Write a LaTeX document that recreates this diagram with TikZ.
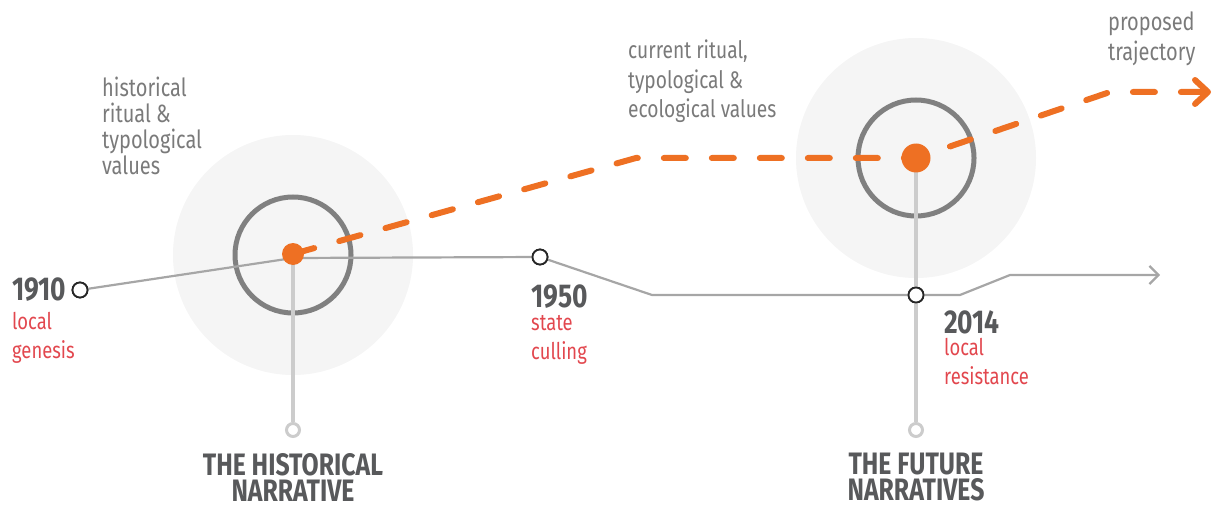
\documentclass[tikz,border=0pt]{standalone}
\usepackage{fontspec}
\setmainfont{Fira Sans}[FakeStretch=0.8]
\definecolor{ember}{HTML}{EE7023}
\definecolor{rosered}{HTML}{E2474E}
\definecolor{inkgrey}{HTML}{58595B}
\definecolor{softgrey}{HTML}{7A7A7A}
\usetikzlibrary{
  arrows.meta,
  positioning
}

\begin{document}
\begin{tikzpicture}[
  x=1pt, y=-1pt,
  halo/.style={circle, fill=black!4, minimum size=240pt, inner sep=0pt},
  ring/.style={circle, draw=black!50, line width=5pt, minimum size=116pt, inner sep=0pt},
  dot/.style={circle, fill=ember, inner sep=0pt},
  marker/.style={circle, draw=black!85, line width=1.8pt, fill=white, minimum size=15pt, inner sep=0pt},
  foot/.style={circle, draw=black!20, line width=3pt, fill=white, minimum size=13pt, inner sep=0pt},
  year/.style={font=\fontsize{33}{33}\bfseries\selectfont, text=inkgrey, inner sep=0pt},
  event/.style={font=\fontsize{23}{29}\selectfont, text=rosered, align=left, inner sep=0pt, anchor=north west},
  note/.style={font=\fontsize{24}{26}\selectfont, text=softgrey, align=left, inner sep=0pt, anchor=north west},
  title/.style={font=\fontsize{31}{26}\bfseries\selectfont, text=inkgrey, align=center, inner sep=0pt, anchor=north},
  timeline/.style={draw=black!35, line width=2.2pt},
  stem/.style={draw=black!20, line width=4pt},
  trail/.style={draw=ember, line width=6pt, line cap=round, dash pattern=on 22pt off 26pt}
]
  \useasboundingbox (0,0) rectangle (1214,505);

  % background halos and rings
  \node[halo] (pasthalo) at (293,255) {};
  \node[halo] (futurehalo) at (916,158) {};
  \node[ring] (pastring) at (293,255) {};
  \node[ring] (futurering) at (916,158) {};

  % markers on the timeline
  \node[marker] (y1910) at (80,290) {};
  \node[marker] (y1950) at (540,257) {};
  \node[marker] (y2014) at (916,295) {};
  \node[foot] (pastfoot) at (293,430) {};
  \node[foot] (futurefoot) at (916,430) {};

  \coordinate (pastjoin) at (293,258);
  \coordinate (dipstart) at (652,295);
  \coordinate (risestart) at (960,295);
  \coordinate (riseend) at (1010,275);
  \coordinate (lineend) at (1160,275);
  \coordinate (bendone) at (636,158);
  \coordinate (bendtwo) at (1110,92);
  \coordinate (pathend) at (1208,92);

  % stems
  \draw[stem] (293,255) -- (pastfoot);
  \draw[stem] (916,158) -- (y2014) -- (futurefoot);

  % timeline
  \draw[timeline, -{Straight Barb[length=9pt, width=18pt]}] (y1910) -- (pastjoin) -- (y1950) -- (dipstart) -- (y2014) -- (risestart) -- (riseend) -- (lineend);
  \node[marker] at (y1910) {};
  \node[marker] at (y1950) {};
  \node[marker] at (y2014) {};

  % proposed trajectory
  \draw[trail] (293,254) -- (bendone) -- (916,158) -- (bendtwo) -- (pathend);
  \draw[ember, line width=6pt, line cap=round, line join=round] (1195,80) -- (pathend) -- (1195,104);
  \node[dot, minimum size=22pt] (pastdot) at (293,254) {};
  \node[dot, minimum size=29pt] (futuredot) at (916,158) {};

  % years and events
  \node[year, anchor=west] (t1910) at (12,290) {1910};
  \node[event] (e1910) at (12,312) {local\\genesis};
  \node[year, anchor=west] (t1950) at (531,297) {1950};
  \node[event] (e1950) at (531,315) {state\\culling};
  \node[year, anchor=west] (t2014) at (944,322) {2014};
  \node[event] (e2014) at (944,338) {local\\resistance};

  % notes
  \node[note, font=\fontsize{25}{26}\selectfont] (pastnote) at (102,77) {historical\\ritual \&\\typological\\values};
  \node[note, font=\fontsize{24}{29.5}\selectfont] (futurenote) at (628,40) {current ritual,\\typological \&\\ecological values};
  \node[note, font=\fontsize{25}{30}\selectfont] (pathnote) at (1108,12) {proposed\\trajectory};

  % titles
  \node[title] (pasttitle) at (293,453) {THE HISTORICAL\\NARRATIVE};
  \node[title] (futuretitle) at (916,453) {THE FUTURE\\NARRATIVES};
\end{tikzpicture}
\end{document}
